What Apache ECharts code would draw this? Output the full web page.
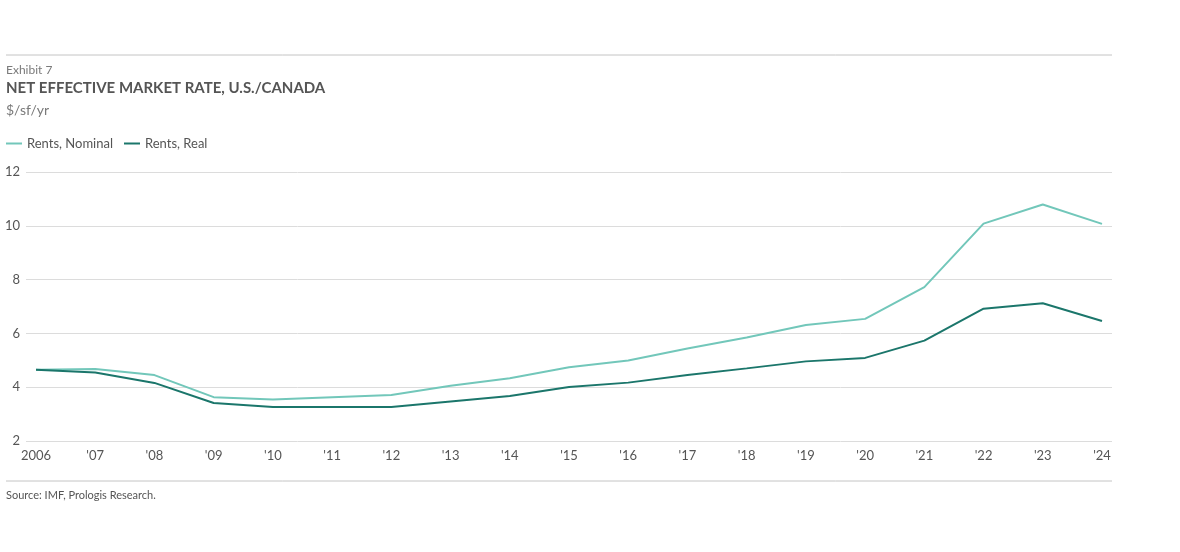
<!DOCTYPE html>
<html>
<head>
<meta charset="utf-8">
<script src="https://cdn.jsdelivr.net/npm/echarts@6/dist/echarts.min.js"></script>
<style>
  html, body { margin: 0; padding: 0; background: #fff; }
  #chart { width: 1180px; height: 552px; }
</style>
</head>
<body>
<div id="chart"></div>
<script>
const years = [2006, 2007, 2008, 2009, 2010, 2011, 2012, 2013, 2014, 2015, 2016, 2017, 2018, 2019, 2020, 2021, 2022, 2023, 2024]
const nominal = [4.65, 4.68, 4.45, 3.63, 3.54, 3.63, 3.71, 4.05, 4.33, 4.74, 4.99, 5.44, 5.85, 6.31, 6.54, 7.72, 10.08, 10.79, 10.07]
const real = [4.65, 4.55, 4.16, 3.41, 3.26, 3.26, 3.26, 3.47, 3.67, 4.01, 4.17, 4.45, 4.70, 4.96, 5.09, 5.73, 6.92, 7.12, 6.46]
const yTicks = [2, 4, 6, 8, 10, 12]

const font = "'Source Sans Pro', 'Lato', sans-serif"
const chart = echarts.init(document.getElementById("chart"), null, { renderer: "canvas" })

const pairs = (values) => values.map((v, i) => [years[i], v])

chart.setOption({
  animation: false,
  textStyle: { fontFamily: font },
  title: [
    { text: "Exhibit 7", left: 6, top: 64, padding: 0, textStyle: { fontSize: 12, fontWeight: "normal", color: "#7a7a7a", fontFamily: font } },
    { text: "NET EFFECTIVE MARKET RATE, U.S./CANADA", left: 6, top: 81, padding: 0, textStyle: { fontSize: 15, fontWeight: "bold", color: "#555", fontFamily: font } },
    { text: "$/sf/yr", left: 6, top: 103, padding: 0, textStyle: { fontSize: 14, fontWeight: "normal", color: "#7a7a7a", fontFamily: font } },
    { text: "Source: IMF, Prologis Research.", left: 6, top: 490, padding: 0, textStyle: { fontSize: 11, fontWeight: "normal", color: "#555", fontFamily: font } }
  ],
  legend: {
    left: 6,
    top: 137,
    padding: 0,
    icon: "rect",
    itemWidth: 16,
    itemHeight: 2,
    itemGap: 11,
    textStyle: { fontSize: 13, color: "#555", fontFamily: font },
    data: ["Rents, Nominal", "Rents, Real"]
  },
  graphic: [
    { type: "line", shape: { x1: 6, y1: 55, x2: 1112, y2: 55 }, style: { stroke: "#c4c4c4", lineWidth: 1 } },
    { type: "line", shape: { x1: 6, y1: 481, x2: 1112, y2: 481 }, style: { stroke: "#c4c4c4", lineWidth: 1 } }
  ],
  grid: { left: 26, right: 68, top: 172, bottom: 111 },
  xAxis: {
    type: "value",
    min: 2006 - 10 / 59.22,
    max: 2024 + 10 / 59.22,
    splitLine: { show: false },
    axisLine: { show: false },
    axisTick: { show: false },
    axisLabel: {
      customValues: years,
      margin: 8,
      fontSize: 13,
      color: "#555",
      fontFamily: font,
      formatter: (v) => (v === 2006 ? "2006" : "'" + String(v).slice(2))
    }
  },
  yAxis: {
    type: "value",
    min: 2,
    max: 12,
    interval: 2,
    axisLine: { show: false },
    axisTick: { show: false },
    axisLabel: { margin: 6, fontSize: 13, color: "#555", fontFamily: font },
    splitLine: { lineStyle: { color: "#dcdcdc", width: 1 } }
  },
  series: [
    {
      name: "Rents, Nominal",
      type: "line",
      data: pairs(nominal),
      showSymbol: false,
      color: "#72c7ba",
      lineStyle: { width: 2, color: "#72c7ba" }
    },
    {
      name: "Rents, Real",
      type: "line",
      data: pairs(real),
      showSymbol: false,
      color: "#1b766b",
      lineStyle: { width: 2, color: "#1b766b" }
    }
  ]
})
</script>
</body>
</html>
